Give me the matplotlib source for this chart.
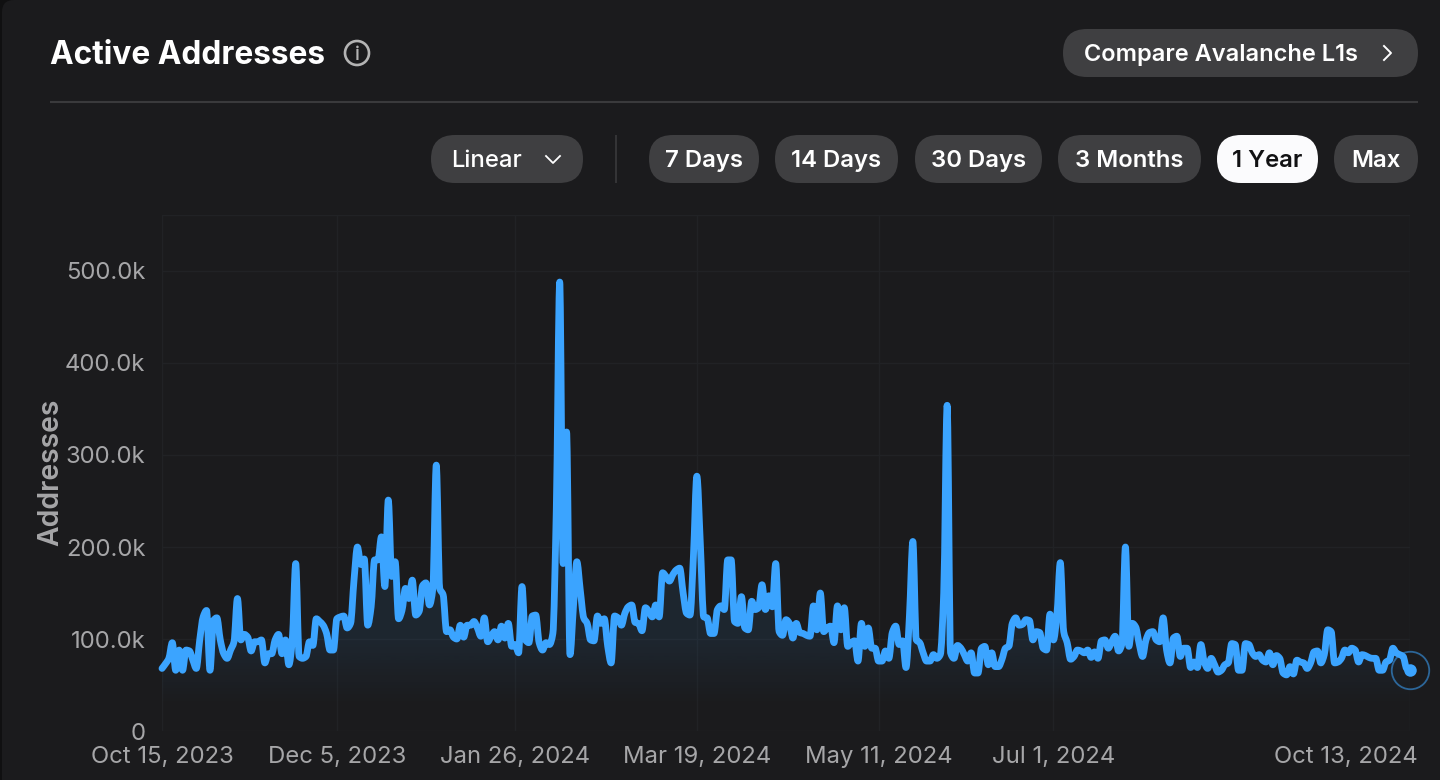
import numpy as np
import pandas as pd
import matplotlib
matplotlib.use("Agg")
import matplotlib.pyplot as plt
import matplotlib.dates as mdates
from matplotlib.patches import FancyBboxPatch, Circle, PathPatch
from matplotlib.path import Path
from matplotlib.ticker import FuncFormatter

plt.rcParams['font.family'] = ['Inter', 'DejaVu Sans']

# daily active addresses in thousands, one list per x tick interval
oct_to_dec = [68,73,79,96,66,88,66,88,87,77,
              68,99,124,131,66,120,123,99,84,79,
              88,97,144,99,105,102,87,97,97,99,
              74,84,84,99,105,84,99,72,99,182,
              81,79,81,97,93,122,119,115,106,88,
              88]
dec_to_jan = [122,124,125,112,117,164,200,181,187,115,
              135,186,186,211,157,251,168,184,122,131,
              155,144,164,126,130,158,161,137,155,289,
              155,148,108,110,102,100,115,102,115,115,
              119,112,103,123,97,103,108,99,114,101,
              117,92]
jan_to_mar = [94,85,157,99,96,125,126,96,88,96,
              94,106,240,488,182,325,83,135,184,153,
              123,117,99,98,125,117,122,92,74,125,
              123,115,128,135,137,118,117,109,134,130,
              124,137,124,172,168,163,170,175,177,150,
              128,126,190]
mar_to_may = [277,205,124,123,106,106,132,136,132,186,
              186,119,117,146,112,110,141,132,134,159,
              132,147,135,182,108,104,121,117,101,117,
              107,106,104,103,136,110,150,108,112,114,
              96,136,110,134,92,96,98,76,117,92,
              112,90,90]
may_to_jul = [76,76,87,79,107,114,94,98,69,125,
              206,99,96,85,76,76,83,79,83,150,
              354,85,79,93,90,83,76,85,63,63,
              90,92,72,85,70,70,78,90,92,117,
              123,115,116,121,120,99,108,107,90,88,
              127]
jul_to_oct = [99,125,183,108,96,78,81,88,87,85,
              88,80,86,79,98,99,90,97,103,87,
              95,200,92,117,113,95,81,99,107,108,
              99,97,123,88,74,101,103,81,90,90,
              69,75,69,94,75,68,79,72,64,66,
              72,74,95,94,66,66,95,94,85,81,
              83,77,75,85,72,82,79,63,61,70,
              62,77,75,74,68,74,86,87,74,83,
              110,108,74,75,79,88,85,90,88,75,
              83,82,80,79,79,66,66,75,77,90,
              85,83,81,68,66]

tick_dates = ["2023-10-15", "2023-12-05", "2024-01-26", "2024-03-19",
              "2024-05-11", "2024-07-01", "2024-10-13"]
tick_labels = ["Oct 15, 2023", "Dec 5, 2023", "Jan 26, 2024", "Mar 19, 2024",
               "May 11, 2024", "Jul 1, 2024", "Oct 13, 2024"]
y_ticks = [0, 100, 200, 300, 400, 500]

range_labels = ["7 Days", "14 Days", "30 Days", "3 Months", "1 Year", "Max"]

values = np.array(oct_to_dec + dec_to_jan + jan_to_mar + mar_to_may + may_to_jul + jul_to_oct, dtype=float)
dates = pd.date_range("2023-10-15", periods=len(values), freq="D")

BG = "#1b1b1d"
PILL = "#3f3f41"
BLUE = "#3ba4ff"
GRID = "#212225"
W, H = 1440, 780


def monotone_path(x, y):
    # bezier through the points with no overshoot, like a monotone chart curve
    dy = np.diff(y)
    slope = np.zeros(len(y))
    both = dy[:-1] * dy[1:] > 0
    slope[1:-1][both] = 2 * dy[:-1][both] * dy[1:][both] / (dy[:-1][both] + dy[1:][both])
    slope[0], slope[-1] = dy[0], dy[-1]
    verts = [(x[0], y[0])]
    codes = [Path.MOVETO]
    for i in range(len(y) - 1):
        step = (x[i + 1] - x[i]) / 3
        verts += [(x[i] + step, y[i] + slope[i] / 3), (x[i + 1] - step, y[i + 1] - slope[i + 1] / 3),
                  (x[i + 1], y[i + 1])]
        codes += [Path.CURVE4] * 3
    return verts, codes


fig = plt.figure(figsize=(W / 100, H / 100), dpi=100, facecolor="#101011")

# overlay in pixel coordinates for the page furniture
ui = fig.add_axes([0, 0, 1, 1], zorder=0)
ui.set_xlim(0, W)
ui.set_ylim(H, 0)
ui.axis("off")
ui.add_patch(FancyBboxPatch((2, 0), W + 40, H + 40, boxstyle="round,pad=0,rounding_size=12",
                            fc=BG, ec="none"))


def pill(x0, x1, y0, y1, color=PILL):
    ui.add_patch(FancyBboxPatch((x0, y0), x1 - x0, y1 - y0,
                                boxstyle="round,pad=0,rounding_size=%g" % ((y1 - y0) / 2),
                                fc=color, ec="none"))


ui.text(50, 52.5, "Active Addresses", color="white", fontsize=22.8, fontweight="bold", va="center_baseline")
ui.add_patch(Circle((357, 53), 12, fc="none", ec="#b4b4b4", lw=1.9))
ui.text(357, 53, "i", color="#b4b4b4", fontsize=14, fontweight="medium", ha="center", va="center_baseline")

pill(1063, 1418, 29, 77)
ui.text(1084, 52.5, "Compare Avalanche L1s", color="white", fontsize=17, fontweight="semibold", va="center_baseline")
ui.plot([1384, 1391, 1384], [46, 53, 60], color="white", lw=1.4)

ui.plot([50, 1418], [102, 102], color="#3a3a3c", lw=1.5, solid_capstyle="butt")

pill(431, 583, 135, 183)
ui.text(451, 158.5, "Linear", color="white", fontsize=17.2, fontweight="medium", va="center_baseline")
ui.plot([546, 553, 560], [156, 163, 156], color="white", lw=1.3)
ui.plot([616, 616], [135, 183], color="#3a3a3c", lw=1.2, solid_capstyle="butt")

range_x = [(649, 759), (775, 898), (915, 1042), (1058, 1201), (1217, 1318), (1334, 1418)]
for label, (x0, x1) in zip(range_labels, range_x):
    active = label == "1 Year"
    pill(x0, x1, 135, 183, "#fbfbfd" if active else PILL)
    ui.text((x0 + x1) / 2, 158.5, label, color="#111113" if active else "white", fontsize=17.2,
            fontweight="semibold", ha="center", va="center_baseline")

# chart axes
ymax = 516 / 0.92
ax = fig.add_axes([162 / W, 1 - 731 / H, (1410 - 162) / W, (731 - 215) / H], zorder=1)
ax.patch.set_alpha(0)
for s in ax.spines.values():
    s.set_visible(False)

ax.set_xticks(pd.to_datetime(tick_dates))
ax.set_xticklabels(tick_labels)
ax.set_yticks(y_ticks)
ax.yaxis.set_major_formatter(FuncFormatter(lambda v, p: "0" if v == 0 else "%.1fk" % v))
ax.tick_params(length=0, labelsize=17.2, labelcolor="#a6a6a8")
ax.tick_params(axis="y", pad=12)
ax.tick_params(axis="x", pad=11)
ax.grid(True, color=GRID, lw=1)
ax.set_axisbelow(True)
ax.axhline(ymax, color=GRID, lw=1)
ax.axvline(dates[-1], color=GRID, lw=1)

# last date label sits left of its tick so it stays on the card
lab = ax.xaxis.get_majorticklabels()[-1]
lab.set_transform(lab.get_transform() + matplotlib.transforms.ScaledTranslation(-64 / 100, 0, fig.dpi_scale_trans))

fig.text(51 / W, 1 - 472 / H, "Addresses", rotation=90, color="#a6a6a8", fontsize=20.4,
         fontweight="semibold", ha="center", va="center", zorder=3)

# area under the line, fading out towards the axis
num = mdates.date2num(dates)
verts, codes = monotone_path(num, values)
area = Path(verts + [(num[-1], 0), (num[0], 0), (num[0], values[0])],
            codes + [Path.LINETO, Path.LINETO, Path.CLOSEPOLY])
grad_y = np.linspace(ymax, 0, 256)
rgba = np.zeros((256, 1, 4))
rgba[..., :3] = matplotlib.colors.to_rgb(BLUE)
rgba[..., 3] = (np.clip((grad_y - 25) / 75, 0, 1) * 0.085)[:, None]
im = ax.imshow(rgba, extent=[num[0], num[-1], 0, ymax], aspect="auto", zorder=1, interpolation="bilinear")
im.set_clip_path(area, transform=ax.transData)

ax.add_patch(PathPatch(Path(verts, codes), fc="none", ec=BLUE, lw=4.9, joinstyle="round",
                       capstyle="round", zorder=3, clip_on=False))
ax.plot(dates[-1], values[-1], "o", color=BLUE, ms=9, mec="none", zorder=4, clip_on=False)
ax.plot(dates[-1], values[-1], "o", mfc="none", mec=BLUE, mew=1.3, alpha=0.55, ms=27, zorder=4, clip_on=False)

ax.set_xlim(dates[0], dates[-1])
ax.set_ylim(0, ymax)

fig.savefig("out.png", dpi=100, facecolor=fig.get_facecolor())
